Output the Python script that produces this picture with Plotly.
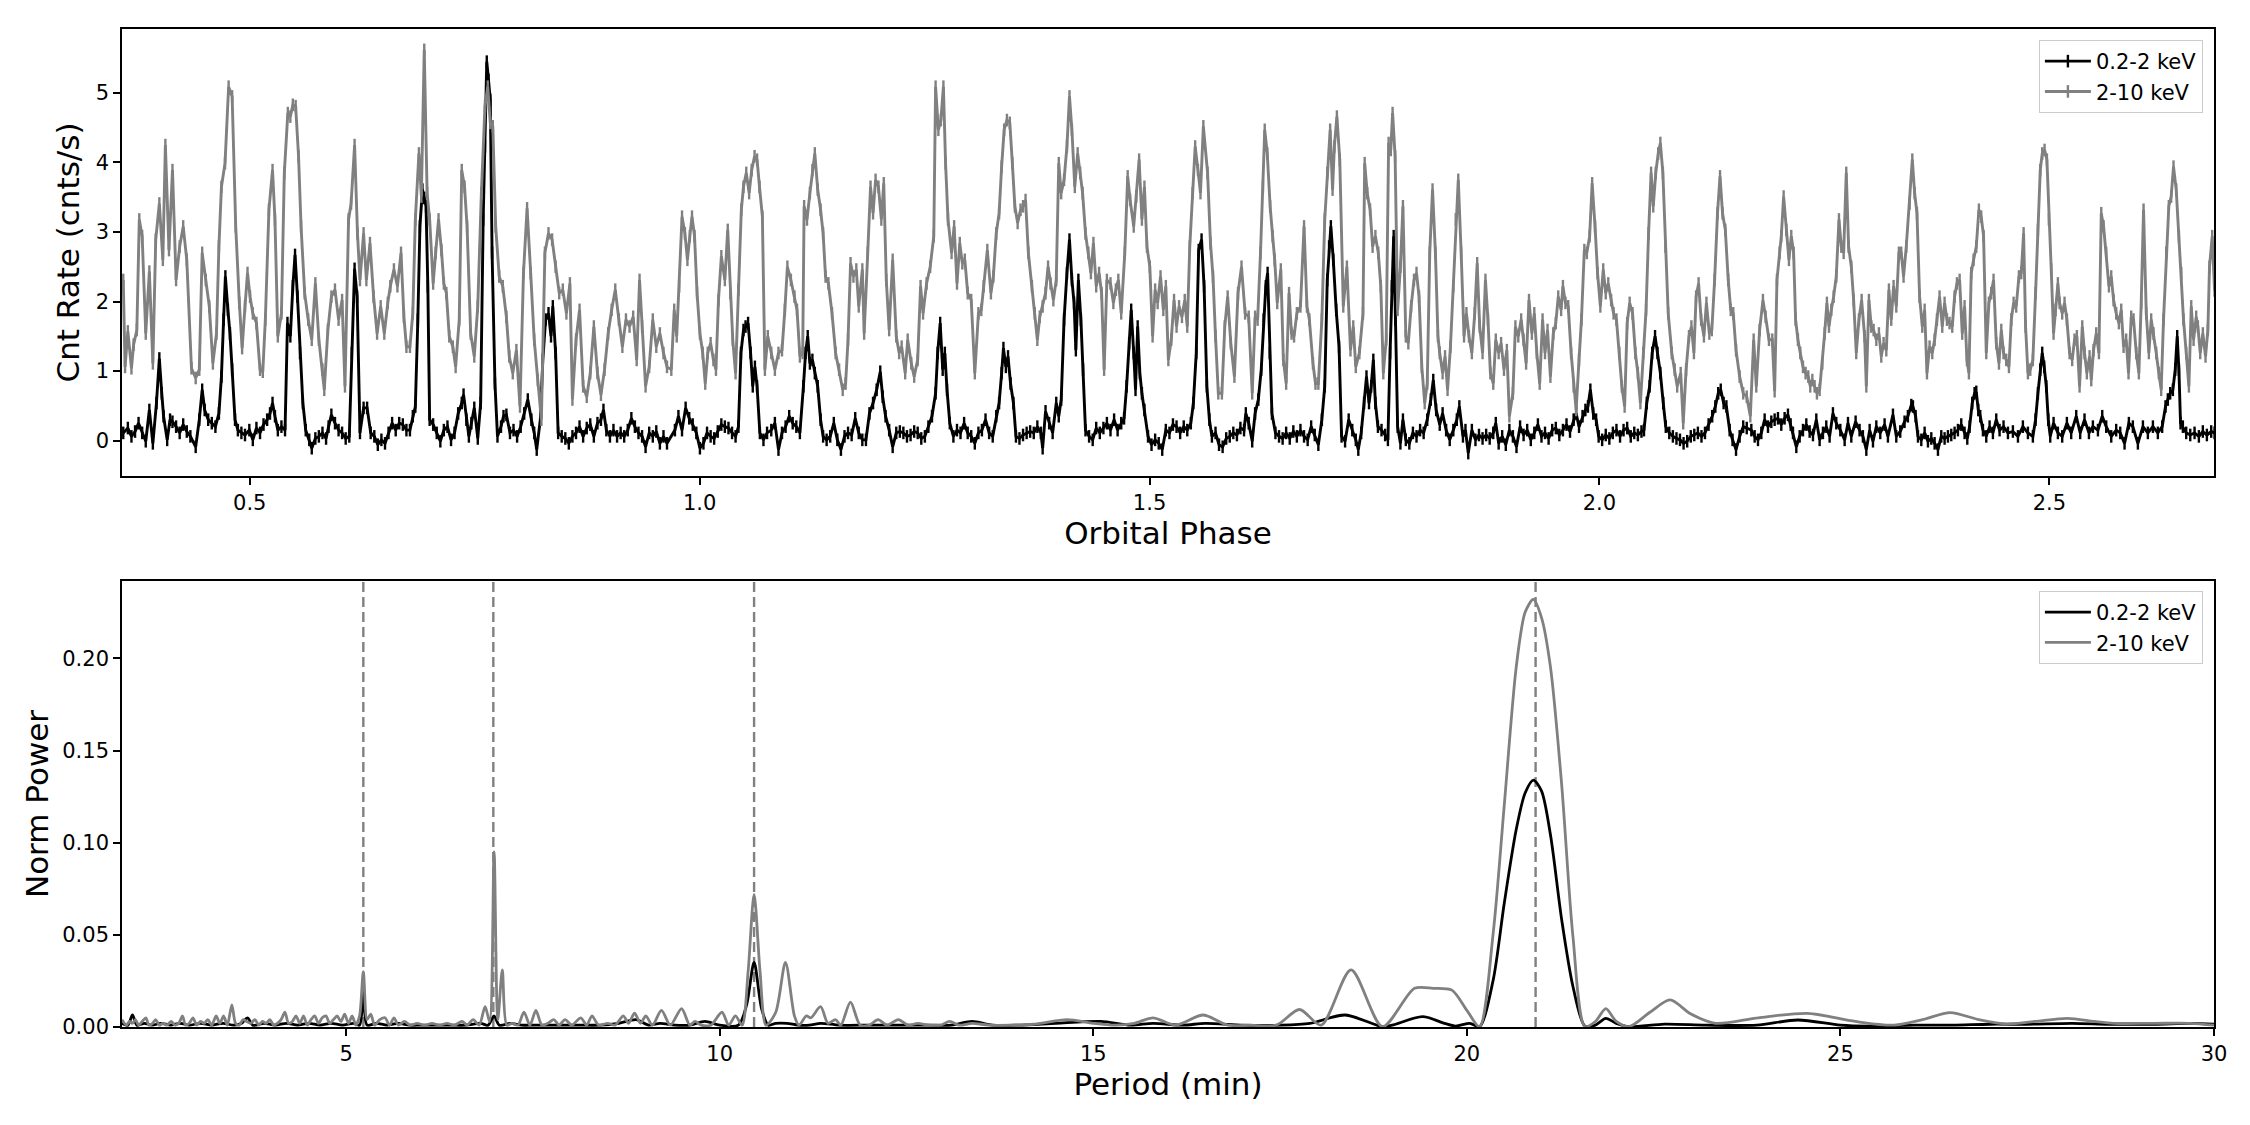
import plotly.graph_objects as go

# ---------------- data ----------------
# light curve, 0.2-2 keV: (orbital phase, count rate)
soft_lc = [
(0.3594,0.11),(0.3645,0.18),(0.3685,0.06),(0.3725,0.13),(0.3764,0.25),(0.3804,0.11),(0.3844,-0.01),(0.3884,0.44),
(0.3923,-0.04),(0.3963,0.54),(0.3995,1.18),(0.4022,0.68),(0.4042,0.35),(0.4082,0.01),(0.4114,0.30),(0.4141,0.27),
(0.4181,0.20),(0.4221,0.11),(0.4260,0.23),(0.4300,0.13),(0.4340,0.06),(0.4399,-0.09),(0.4439,0.30),(0.4471,0.73),
(0.4499,0.44),(0.4538,0.30),(0.4578,0.25),(0.4618,0.20),(0.4657,0.39),(0.4685,0.92),(0.4709,1.74),(0.4729,2.36),
(0.4757,1.88),(0.4780,1.54),(0.4804,1.02),(0.4836,0.30),(0.4868,0.15),(0.4907,0.11),(0.4947,0.08),(0.4995,0.15),
(0.5034,0.01),(0.5074,0.18),(0.5114,0.11),(0.5153,0.23),(0.5193,0.30),(0.5225,0.39),(0.5253,0.54),(0.5280,0.35),
(0.5312,0.15),(0.5352,0.20),(0.5392,0.15),(0.5419,1.69),(0.5451,1.50),(0.5479,2.22),(0.5503,2.67),(0.5530,2.07),
(0.5558,1.26),(0.5590,0.54),(0.5622,0.15),(0.5661,0.01),(0.5689,-0.11),(0.5729,0.03),(0.5768,0.06),(0.5808,0.11),
(0.5848,0.03),(0.5876,0.20),(0.5907,0.37),(0.5947,0.25),(0.5987,0.15),(0.6026,0.11),(0.6066,0.03),(0.6106,0.06),
(0.6134,1.26),(0.6165,2.47),(0.6193,2.07),(0.6225,0.11),(0.6265,0.47),(0.6304,0.47),(0.6344,0.11),(0.6384,0.06),
(0.6423,-0.06),(0.6463,0.01),(0.6503,-0.04),(0.6542,0.11),(0.6582,0.25),(0.6622,0.15),(0.6661,0.25),(0.6701,0.23),
(0.6741,0.15),(0.6780,0.15),(0.6812,0.35),(0.6840,0.49),(0.6868,1.74),(0.6891,3.08),(0.6919,3.61),(0.6939,3.49),
(0.6959,3.37),(0.6979,2.22),(0.6999,0.30),(0.7038,0.23),(0.7078,0.11),(0.7118,-0.01),(0.7157,0.15),(0.7197,0.20),
(0.7237,0.01),(0.7276,0.11),(0.7316,0.39),(0.7356,0.54),(0.7376,0.66),(0.7407,0.30),(0.7435,0.06),(0.7463,0.25),
(0.7495,0.47),(0.7534,0.03),(0.7566,0.54),(0.7594,3.18),(0.7614,4.23),(0.7634,5.45),(0.7653,5.19),(0.7673,4.90),
(0.7693,2.70),(0.7725,0.82),(0.7753,0.06),(0.7792,0.20),(0.7820,0.35),(0.7852,0.37),(0.7892,0.11),(0.7931,0.15),
(0.7971,0.06),(0.8011,0.20),(0.8050,0.39),(0.8090,0.59),(0.8130,0.30),(0.8161,0.11),(0.8189,-0.13),(0.8229,0.30),
(0.8257,1.16),(0.8288,1.74),(0.8320,1.83),(0.8348,1.50),(0.8368,1.93),(0.8399,1.26),(0.8427,0.11),(0.8467,0.06),
(0.8507,0.03),(0.8546,-0.04),(0.8586,0.06),(0.8626,0.11),(0.8665,0.20),(0.8705,0.06),(0.8745,0.18),(0.8784,0.23),
(0.8824,0.06),(0.8864,0.25),(0.8903,0.30),(0.8931,0.44),(0.8963,0.15),(0.9003,0.06),(0.9042,0.15),(0.9082,0.06),
(0.9122,0.11),(0.9161,0.06),(0.9201,0.15),(0.9241,0.32),(0.9280,0.20),(0.9320,0.11),(0.9360,0.06),(0.9399,-0.09),
(0.9439,0.11),(0.9479,0.06),(0.9518,0.13),(0.9558,-0.04),(0.9598,0.06),(0.9637,-0.04),
(0.9725,0.15),(0.9764,0.35),(0.9804,0.15),(0.9844,0.47),(0.9884,0.32),(0.9923,0.23),(0.9963,0.11),(1.0003,-0.11),
(1.0042,-0.04),(1.0082,0.11),(1.0122,0.06),(1.0161,0.03),(1.0201,0.13),(1.0241,0.23),(1.0280,0.20),(1.0320,0.18),
(1.0360,0.11),(1.0399,0.06),(1.0431,0.20),(1.0459,1.26),(1.0487,1.59),(1.0510,1.64),(1.0538,1.69),(1.0566,1.26),
(1.0590,0.78),(1.0614,1.06),(1.0638,0.78),(1.0669,0.11),(1.0709,0.01),(1.0749,0.11),(1.0796,0.15),(1.0836,0.25),
(1.0876,-0.13),(1.0915,0.11),(1.0955,0.20),(1.0995,0.35),(1.1034,0.25),(1.1074,0.20),(1.1114,0.11),(1.1153,0.78),
(1.1177,1.26),(1.1201,1.50),(1.1225,1.11),(1.1253,1.16),(1.1280,0.97),(1.1312,0.78),(1.1344,0.30),(1.1372,0.06),
(1.1411,0.01),(1.1451,0.06),(1.1491,0.25),(1.1530,0.01),(1.1570,-0.13),(1.1610,0.06),(1.1649,0.11),(1.1689,0.08),
(1.1729,0.32),(1.1768,0.11),(1.1808,0.01),(1.1848,0.01),(1.1887,0.39),(1.1927,0.54),(1.1967,0.73),(1.2007,0.99),
(1.2034,0.63),(1.2066,0.35),(1.2106,0.15),(1.2145,-0.09),(1.2185,0.11),(1.2225,0.13),(1.2264,0.11),(1.2304,0.06),
(1.2344,0.08),(1.2384,0.13),(1.2423,0.11),(1.2463,0.03),(1.2503,0.06),(1.2542,0.20),(1.2582,0.35),(1.2622,0.68),
(1.2645,1.26),(1.2673,1.69),(1.2701,1.02),(1.2725,1.26),(1.2749,0.73),(1.2780,0.25),(1.2820,0.06),(1.2860,0.15),
(1.2899,0.11),(1.2939,0.25),(1.2979,0.11),(1.3018,0.06),(1.3058,-0.04),(1.3098,0.11),(1.3137,0.15),(1.3177,0.30),
(1.3217,0.11),(1.3257,0.06),(1.3296,0.35),(1.3328,0.54),(1.3356,0.97),(1.3376,1.33),(1.3403,1.06),(1.3427,1.21),
(1.3455,0.82),(1.3487,0.54),(1.3515,0.06),(1.3554,0.03),(1.3594,0.08),(1.3634,0.11),(1.3673,0.13),(1.3713,0.11),
(1.3753,0.20),(1.3792,0.11),(1.3812,-0.11),(1.3844,0.42),(1.3884,0.25),(1.3923,0.11),(1.3963,0.54),(1.3991,0.35),
(1.4018,0.59),(1.4050,1.74),(1.4082,2.41),(1.4110,2.89),(1.4137,2.31),(1.4161,1.98),(1.4181,1.30),(1.4209,2.31),
(1.4237,1.74),(1.4261,1.02),(1.4288,0.15),(1.4328,0.06),(1.4368,0.01),(1.4407,0.18),(1.4447,0.11),(1.4487,0.18),
(1.4526,0.25),(1.4566,0.15),(1.4606,0.30),(1.4645,0.15),(1.4685,0.25),(1.4717,0.32),(1.4745,0.78),(1.4773,1.40),
(1.4796,1.88),(1.4824,1.26),(1.4844,0.73),(1.4868,1.64),(1.4892,0.97),(1.4915,0.68),(1.4943,0.44),(1.4983,0.06),
(1.5022,-0.06),(1.5062,0.01),(1.5102,-0.04),(1.5141,-0.13),(1.5181,0.15),(1.5221,0.11),(1.5260,0.23),(1.5300,0.20),
(1.5340,0.11),(1.5380,0.20),(1.5419,0.15),(1.5459,0.25),(1.5487,0.54),(1.5519,1.26),(1.5546,2.74),(1.5578,2.89),
(1.5606,2.22),(1.5637,0.78),(1.5665,0.30),(1.5693,0.06),(1.5733,0.11),(1.5772,-0.06),(1.5812,-0.09),(1.5852,0.03),
(1.5891,0.06),(1.5931,0.11),(1.5971,0.08),(1.6010,0.18),(1.6050,0.15),(1.6070,0.39),(1.6102,0.25),(1.6141,-0.01),
(1.6173,0.39),(1.6209,0.59),(1.6241,1.02),(1.6268,1.74),(1.6292,2.22),(1.6312,2.41),(1.6336,1.26),(1.6360,0.39),
(1.6399,0.11),(1.6439,0.06),(1.6479,0.03),(1.6518,0.11),(1.6558,0.03),(1.6598,0.13),(1.6637,0.06),(1.6677,0.15),
(1.6717,0.06),(1.6757,0.01),(1.6796,0.20),(1.6836,0.08),(1.6876,-0.06),(1.6915,0.30),(1.6947,0.78),(1.6975,2.31),
(1.6995,2.79),(1.7015,3.08),(1.7042,2.60),(1.7074,1.88),(1.7106,1.35),(1.7134,0.06),(1.7173,-0.01),(1.7213,0.30),
(1.7253,0.15),(1.7292,0.01),(1.7320,-0.13),(1.7352,0.11),(1.7384,0.54),(1.7411,0.92),(1.7439,0.54),(1.7463,0.78),
(1.7487,1.16),(1.7510,0.54),(1.7538,0.20),(1.7578,0.15),(1.7618,0.08),(1.7649,0.01),(1.7673,1.26),(1.7693,2.22),
(1.7713,2.94),(1.7733,1.74),(1.7757,0.20),(1.7788,-0.04),(1.7816,0.30),(1.7848,0.01),(1.7887,-0.04),(1.7927,0.11),
(1.7967,0.06),(1.8007,0.15),(1.8046,0.11),(1.8086,0.30),(1.8126,0.59),(1.8153,0.87),(1.8185,0.44),(1.8225,0.23),
(1.8257,0.39),(1.8296,0.15),(1.8336,0.01),(1.8376,0.15),(1.8415,0.30),(1.8443,0.49),(1.8483,0.06),(1.8511,0.15),
(1.8542,-0.18),(1.8582,0.15),(1.8622,0.01),(1.8661,0.08),(1.8701,0.03),(1.8741,0.08),(1.8780,0.03),(1.8820,0.11),
(1.8848,0.25),(1.8880,-0.04),(1.8919,0.06),(1.8959,-0.06),(1.8999,0.15),(1.9038,0.06),(1.9078,-0.09),(1.9118,0.20),
(1.9157,0.08),(1.9197,0.15),(1.9237,0.01),(1.9276,0.11),(1.9316,0.23),(1.9356,0.06),(1.9395,0.11),(1.9435,0.03),
(1.9475,0.15),(1.9515,0.18),(1.9554,0.08),(1.9594,0.15),(1.9634,0.23),(1.9673,0.13),(1.9713,0.30),(1.9741,0.39),
(1.9773,0.20),(1.9812,0.35),(1.9844,0.44),(1.9872,0.49),(1.9899,0.73),(1.9931,0.39),(1.9963,0.30),(1.9991,0.06),
(2.0030,0.01),(2.0070,0.08),(2.0110,0.03),(2.0149,0.11),(2.0189,0.15),(2.0229,0.06),(2.0268,0.15),(2.0308,0.18),
(2.0348,0.06),(2.0387,0.11),(2.0427,0.08),(2.0467,0.13),(2.0495,0.15),(2.0526,0.54),(2.0558,0.78),(2.0586,1.26),
(2.0618,1.50),(2.0645,1.26),(2.0677,0.97),(2.0709,0.54),(2.0737,0.20),(2.0776,0.11),(2.0816,0.06),(2.0856,0.03),
(2.0895,0.01),(2.0935,-0.04),(2.0975,-0.01),(2.1015,0.06),(2.1054,0.08),(2.1094,0.11),(2.1134,0.06),(2.1173,0.11),
(2.1213,0.23),(2.1253,0.35),(2.1288,0.49),(2.1320,0.68),(2.1348,0.73),(2.1380,0.54),(2.1411,0.49),(2.1447,0.15),
(2.1479,0.01),(2.1518,-0.13),(2.1558,0.06),(2.1598,0.20),(2.1637,0.18),
(2.1688,0.15),(2.1725,0.06),(2.1762,0.01),(2.1799,0.11),(2.1836,0.30),(2.1873,0.20),(2.1910,0.27),(2.1947,0.30),
(2.1984,0.32),(2.2021,0.23),(2.2058,0.32),(2.2095,0.37),(2.2125,0.23),(2.2151,0.11),(2.2188,-0.09),(2.2225,0.06),
(2.2262,0.15),(2.2299,0.23),(2.2336,0.13),(2.2373,0.08),(2.2410,0.30),(2.2447,0.01),(2.2484,0.11),(2.2521,0.20),
(2.2558,0.06),(2.2595,0.39),(2.2632,0.25),(2.2677,0.15),(2.2725,0.01),(2.2762,0.25),(2.2799,0.06),(2.2847,0.27),
(2.2891,0.15),(2.2928,0.06),(2.2966,-0.13),(2.3003,0.15),(2.3040,-0.01),(2.3077,0.20),(2.3121,0.11),(2.3169,0.23),
(2.3206,0.06),(2.3262,0.37),(2.3299,0.06),(2.3343,0.13),(2.3391,0.27),(2.3428,0.35),(2.3466,0.51),(2.3484,0.49),
(2.3514,0.35),(2.3540,0.06),(2.3577,0.01),(2.3614,0.11),(2.3651,-0.01),(2.3688,0.03),(2.3725,-0.04),(2.3762,-0.13),
(2.3799,0.06),(2.3836,0.03),(2.3873,0.06),(2.3910,0.08),(2.3947,0.11),(2.3984,0.15),(2.4021,0.23),(2.4058,0.11),
(2.4088,0.03),(2.4114,0.20),(2.4143,0.54),(2.4169,0.68),(2.4188,0.70),(2.4210,0.44),(2.4232,0.35),(2.4262,0.15),
(2.4299,0.06),(2.4336,0.20),(2.4373,0.11),(2.4410,0.30),(2.4447,0.15),(2.4491,0.20),(2.4540,0.11),(2.4595,0.13),
(2.4651,0.06),(2.4706,0.20),(2.4762,0.11),(2.4817,0.06),(2.4847,0.30),(2.4873,0.68),(2.4899,1.02),(2.4921,1.26),
(2.4943,1.06),(2.4966,0.78),(2.4988,0.30),(2.5010,0.06),(2.5047,0.25),(2.5095,0.11),(2.5143,0.06),(2.5195,0.25),
(2.5243,0.11),(2.5299,0.35),(2.5343,0.11),(2.5391,0.30),(2.5440,0.11),(2.5484,0.20),(2.5540,0.15),(2.5588,0.35),
(2.5632,0.20),(2.5688,0.06),(2.5743,0.15),(2.5788,0.11),(2.5836,-0.04),(2.5884,0.25),(2.5928,0.20),(2.5984,-0.04),
(2.6040,0.20),(2.6095,0.11),(2.6151,0.20),(2.6206,0.11),(2.6254,0.20),(2.6291,0.49),(2.6317,0.59),(2.6343,0.68),
(2.6373,0.73),(2.6399,1.02),(2.6421,1.50),(2.6440,1.02),(2.6458,0.25),(2.6484,0.20),(2.6521,0.11),(2.6566,0.08),
(2.6614,0.11),(2.6662,0.06),(2.6706,0.13),(2.6751,0.08),(2.6799,0.13),(2.6836,0.11),
]

# light curve, 2-10 keV: (orbital phase, count rate)
hard_lc = [
(0.3594,2.31),(0.3614,1.06),(0.3645,1.57),(0.3685,1.04),(0.3709,1.38),(0.3745,1.59),(0.3772,3.18),(0.3804,2.94),
(0.3844,1.54),(0.3884,2.43),(0.3923,1.11),(0.3955,2.89),(0.3995,3.41),(0.4034,2.60),(0.4062,4.25),(0.4102,2.74),
(0.4141,3.89),(0.4181,2.31),(0.4221,2.79),(0.4260,3.08),(0.4300,2.60),(0.4352,1.04),(0.4399,0.90),(0.4439,1.02),
(0.4471,2.70),(0.4511,2.31),(0.4550,1.93),(0.4590,1.11),(0.4630,1.54),(0.4657,2.79),(0.4685,3.65),(0.4725,3.99),
(0.4765,5.09),(0.4804,4.95),(0.4844,3.08),(0.4884,1.98),(0.4915,1.33),(0.4947,1.93),(0.4975,2.41),(0.5003,2.07),
(0.5034,1.83),(0.5074,1.69),(0.5114,1.02),(0.5145,0.99),(0.5173,1.74),(0.5213,3.32),(0.5253,3.89),(0.5280,3.18),
(0.5312,1.50),(0.5352,1.83),(0.5384,3.85),(0.5423,4.71),(0.5451,4.66),(0.5479,4.83),(0.5510,4.81),(0.5542,4.09),
(0.5570,3.08),(0.5610,2.12),(0.5649,1.74),(0.5689,1.45),(0.5729,2.26),(0.5768,1.45),(0.5808,1.02),(0.5828,0.73),
(0.5868,1.59),(0.5907,2.07),(0.5947,2.17),(0.5987,1.74),(0.6026,2.02),(0.6058,0.78),(0.6098,3.18),(0.6126,3.41),
(0.6165,4.25),(0.6197,2.98),(0.6225,2.31),(0.6265,2.98),(0.6296,2.31),(0.6336,2.84),(0.6376,2.07),(0.6415,1.54),
(0.6455,1.93),(0.6495,1.54),(0.6534,1.98),(0.6562,2.22),(0.6602,2.46),(0.6641,2.22),(0.6681,2.70),(0.6713,1.78),
(0.6741,1.35),(0.6780,1.35),(0.6812,1.83),(0.6840,3.18),(0.6880,4.13),(0.6907,3.51),(0.6939,5.62),(0.6971,3.56),
(0.6999,3.18),(0.7038,2.26),(0.7066,2.70),(0.7098,3.18),(0.7130,2.74),(0.7157,2.26),(0.7185,2.12),(0.7217,1.50),
(0.7257,1.35),(0.7288,1.06),(0.7328,1.74),(0.7356,3.89),(0.7387,3.65),(0.7415,3.08),(0.7455,1.54),(0.7495,1.21),
(0.7534,1.93),(0.7574,3.56),(0.7614,4.81),(0.7645,5.09),(0.7673,4.57),(0.7701,4.52),(0.7733,3.08),(0.7772,2.36),
(0.7812,2.22),(0.7852,1.78),(0.7884,1.21),(0.7923,0.97),(0.7963,1.30),(0.8003,0.49),(0.8042,2.41),(0.8082,3.34),
(0.8122,2.41),(0.8161,1.45),(0.8201,0.87),(0.8241,0.30),(0.8280,2.70),(0.8320,2.98),(0.8360,2.89),(0.8399,2.50),
(0.8439,2.12),(0.8479,2.17),(0.8519,1.83),(0.8558,2.26),(0.8586,0.59),(0.8626,1.45),(0.8665,1.88),(0.8705,0.78),
(0.8745,0.63),(0.8784,0.97),(0.8824,1.64),(0.8864,0.97),(0.8903,0.66),(0.8943,1.02),(0.8983,1.54),(0.9022,1.88),
(0.9062,2.17),(0.9102,1.74),(0.9141,1.35),(0.9181,1.74),(0.9221,1.64),(0.9261,1.78),(0.9300,1.16),(0.9332,2.31),
(0.9360,1.64),(0.9399,0.78),(0.9439,1.06),(0.9479,1.74),(0.9518,1.35),(0.9558,1.54),(0.9598,1.26),(0.9637,1.06),
(0.9685,1.02),(0.9717,1.88),(0.9745,1.50),(0.9772,2.22),(0.9804,3.22),(0.9836,2.98),(0.9864,2.60),(0.9891,2.94),
(0.9915,3.22),(0.9943,2.94),(0.9971,2.12),(1.0003,1.54),(1.0034,1.26),(1.0062,0.82),(1.0090,1.26),(1.0122,1.40),
(1.0153,1.16),(1.0181,1.02),(1.0209,2.02),(1.0241,2.65),(1.0280,2.31),(1.0312,3.03),(1.0340,2.12),(1.0368,1.45),
(1.0399,0.97),(1.0431,2.17),(1.0463,3.32),(1.0487,3.65),(1.0518,3.85),(1.0550,3.56),(1.0578,3.89),(1.0610,4.09),
(1.0638,4.04),(1.0665,3.65),(1.0697,3.22),(1.0725,1.02),(1.0757,1.50),(1.0796,1.26),(1.0836,1.02),(1.0876,1.26),
(1.0915,1.30),(1.0947,1.88),(1.0975,2.50),(1.1014,2.31),(1.1054,2.07),(1.1082,1.88),(1.1114,1.21),(1.1145,1.26),
(1.1161,3.37),(1.1193,3.18),(1.1225,3.56),(1.1253,3.89),(1.1280,4.13),(1.1312,3.61),(1.1344,3.32),(1.1372,2.98),
(1.1399,2.36),(1.1431,2.26),(1.1471,1.83),(1.1511,1.26),(1.1550,1.02),(1.1590,0.73),(1.1622,0.82),(1.1649,1.45),
(1.1677,2.55),(1.1709,2.36),(1.1741,2.46),(1.1768,1.93),(1.1808,2.46),(1.1828,1.54),(1.1868,2.70),(1.1899,3.65),
(1.1927,3.27),(1.1955,3.75),(1.1987,3.65),(1.2019,3.18),(1.2046,3.70),(1.2074,2.31),(1.2106,1.59),(1.2145,2.60),
(1.2185,1.50),(1.2217,1.26),(1.2245,1.35),(1.2284,0.97),(1.2312,1.45),(1.2352,1.11),(1.2384,0.92),(1.2423,1.16),
(1.2455,2.22),(1.2483,1.83),(1.2522,2.26),(1.2562,2.50),(1.2602,2.94),(1.2622,5.09),(1.2653,4.47),(1.2681,4.61),
(1.2709,5.09),(1.2733,3.99),(1.2760,3.18),(1.2800,2.70),(1.2828,3.08),(1.2860,2.26),(1.2891,2.84),(1.2919,2.55),
(1.2947,2.60),(1.2979,2.12),(1.3018,2.02),(1.3058,0.97),(1.3098,1.83),(1.3130,1.88),(1.3157,2.22),(1.3197,2.74),
(1.3237,2.12),(1.3264,2.36),(1.3296,2.98),(1.3328,3.27),(1.3356,3.94),(1.3384,4.47),(1.3415,4.61),(1.3447,4.57),
(1.3475,3.99),(1.3503,3.37),(1.3534,3.13),(1.3566,3.32),(1.3594,3.37),(1.3622,3.46),(1.3653,2.70),(1.3693,2.22),
(1.3725,1.83),(1.3753,1.45),(1.3780,1.78),(1.3812,1.93),(1.3844,2.12),(1.3872,2.50),(1.3899,2.26),(1.3931,2.02),
(1.3963,2.31),(1.3991,3.99),(1.4018,3.56),(1.4050,3.75),(1.4082,4.23),(1.4110,4.95),(1.4137,4.47),(1.4169,3.65),
(1.4201,4.13),(1.4229,3.85),(1.4256,3.56),(1.4288,2.98),(1.4320,2.70),(1.4348,2.41),(1.4376,2.84),(1.4407,2.22),
(1.4439,2.41),(1.4467,2.12),(1.4495,1.02),(1.4526,2.31),(1.4566,2.26),(1.4598,1.98),(1.4626,2.17),(1.4653,2.31),
(1.4685,1.83),(1.4725,2.70),(1.4757,3.80),(1.4784,3.46),(1.4824,3.08),(1.4852,3.51),(1.4884,4.04),(1.4915,3.18),
(1.4943,3.65),(1.4971,2.79),(1.5003,2.50),(1.5034,1.50),(1.5062,2.17),(1.5090,1.98),(1.5122,2.36),(1.5153,1.88),
(1.5181,2.22),(1.5209,1.16),(1.5241,1.45),(1.5272,2.02),(1.5300,1.64),(1.5328,1.93),(1.5360,1.78),(1.5391,2.02),
(1.5419,1.64),(1.5447,2.79),(1.5479,3.56),(1.5507,4.23),(1.5538,3.89),(1.5566,3.56),(1.5598,4.52),
(1.5645,3.85),(1.5677,2.84),(1.5705,2.36),(1.5733,1.50),(1.5764,0.68),(1.5804,0.68),(1.5836,1.64),(1.5868,2.07),
(1.5903,1.40),(1.5943,0.92),(1.5983,2.12),(1.6022,2.50),(1.6062,1.83),(1.6102,1.78),(1.6141,0.68),(1.6173,1.78),
(1.6201,1.74),(1.6233,2.70),(1.6260,3.65),(1.6280,4.47),(1.6308,4.13),(1.6340,3.37),(1.6368,2.94),(1.6391,2.60),
(1.6419,1.98),(1.6459,2.46),(1.6487,1.16),(1.6518,0.82),(1.6550,2.12),(1.6578,1.54),(1.6606,1.50),(1.6637,1.83),
(1.6677,1.93),(1.6717,3.08),(1.6749,1.93),(1.6776,1.74),(1.6816,1.11),(1.6844,0.82),(1.6876,0.82),(1.6915,1.74),
(1.6947,3.18),(1.6975,3.85),(1.7007,4.47),(1.7034,3.61),(1.7054,4.23),(1.7082,4.66),(1.7114,4.04),(1.7153,1.93),
(1.7193,2.50),(1.7233,1.30),(1.7264,1.64),(1.7292,1.06),(1.7332,1.26),(1.7372,1.83),(1.7391,3.99),(1.7419,3.56),
(1.7451,3.32),(1.7479,2.79),(1.7510,2.94),(1.7542,2.70),(1.7570,2.22),(1.7598,0.97),(1.7630,1.45),(1.7657,4.28),
(1.7681,4.18),(1.7701,4.71),(1.7729,4.09),(1.7757,1.88),(1.7788,2.50),(1.7816,3.37),(1.7848,1.50),(1.7876,1.40),
(1.7907,1.93),(1.7939,2.31),(1.7967,2.41),(1.7995,2.07),(1.8026,1.06),(1.8058,0.54),(1.8086,0.82),(1.8114,2.70),
(1.8145,3.61),(1.8177,2.70),(1.8205,1.50),(1.8225,1.26),(1.8257,0.97),(1.8284,1.21),(1.8312,0.73),(1.8344,1.35),
(1.8376,2.22),(1.8403,3.18),(1.8431,3.75),(1.8463,2.70),(1.8495,1.50),(1.8522,1.83),(1.8550,1.50),(1.8582,1.26),
(1.8614,1.83),(1.8641,2.55),(1.8669,1.64),(1.8701,1.26),(1.8733,2.31),(1.8761,1.74),(1.8788,0.97),(1.8820,0.82),
(1.8848,1.45),(1.8880,1.26),(1.8907,1.40),(1.8939,1.02),(1.8971,1.30),(1.8999,0.35),(1.9038,0.68),(1.9066,1.64),
(1.9098,1.50),(1.9130,1.74),(1.9157,1.45),(1.9185,1.11),(1.9217,2.02),(1.9249,1.54),(1.9276,1.83),(1.9304,1.26),
(1.9336,0.82),(1.9368,1.74),(1.9395,1.26),(1.9423,1.59),(1.9455,0.92),(1.9487,1.54),(1.9515,1.69),(1.9542,2.07),
(1.9574,1.88),(1.9594,2.22),(1.9622,1.98),(1.9653,1.93),(1.9685,1.26),(1.9713,0.78),(1.9741,0.44),(1.9773,1.16),
(1.9800,1.74),(1.9832,2.74),(1.9860,2.70),(1.9891,2.94),(1.9919,3.70),(1.9951,3.08),(1.9979,2.41),(2.0010,1.93),
(2.0042,2.46),(2.0070,2.12),(2.0098,2.26),(2.0130,2.02),(2.0157,1.83),(2.0189,1.74),(2.0221,1.26),(2.0249,0.78),
(2.0280,0.49),(2.0308,1.69),(2.0336,1.98),(2.0368,1.83),(2.0399,1.26),(2.0427,0.97),(2.0455,0.54),(2.0487,1.26),
(2.0518,1.88),(2.0546,2.98),(2.0574,3.85),(2.0598,3.37),(2.0626,3.85),(2.0653,4.13),(2.0677,4.28),(2.0705,3.85),
(2.0733,2.79),(2.0764,1.83),(2.0804,1.26),(2.0836,1.02),(2.0864,0.78),(2.0903,0.97),(2.0931,0.25),(2.0963,1.02),
(2.0995,1.50),(2.1022,1.64),(2.1050,1.26),(2.1074,2.07),(2.1102,2.26),(2.1130,1.74),(2.1161,1.50),(2.1189,1.98),
(2.1221,1.54),(2.1249,1.59),(2.1280,2.31),(2.1312,3.27),(2.1340,3.80),(2.1368,3.27),(2.1399,3.03),(2.1431,2.31),
(2.1459,1.88),(2.1487,1.83),(2.1518,1.30),(2.1558,0.92),(2.1598,0.68),(2.1637,0.63),
(2.1677,0.35),(2.1714,1.45),(2.1743,0.78),(2.1780,1.59),(2.1817,2.02),(2.1847,1.78),(2.1884,1.45),(2.1921,1.45),
(2.1947,0.71),(2.1973,2.31),(2.2003,2.70),(2.2021,2.94),(2.2047,3.51),(2.2077,3.03),(2.2106,2.60),(2.2132,2.94),
(2.2158,2.70),(2.2180,1.74),(2.2206,1.45),(2.2232,1.26),(2.2262,1.06),(2.2291,0.97),(2.2321,0.92),(2.2343,0.78),
(2.2366,0.87),(2.2391,0.78),(2.2417,0.68),(2.2447,0.73),(2.2477,1.11),(2.2503,1.54),(2.2528,1.98),(2.2551,1.64),
(2.2577,1.88),(2.2603,2.07),(2.2632,2.36),(2.2662,3.18),(2.2688,2.79),(2.2714,2.70),(2.2743,3.85),(2.2769,2.79),
(2.2799,2.50),(2.2825,2.02),(2.2854,1.26),(2.2884,1.74),(2.2914,2.02),(2.2947,1.50),(2.2966,0.78),(2.2995,2.02),
(2.3021,1.64),(2.3047,1.59),(2.3077,1.45),(2.3106,1.54),(2.3132,1.21),(2.3158,1.40),(2.3188,1.30),(2.3217,2.17),
(2.3243,1.74),(2.3269,2.22),(2.3299,1.93),(2.3328,2.70),(2.3354,2.70),(2.3380,2.36),(2.3410,2.79),(2.3447,3.41),
(2.3477,4.04),(2.3503,3.56),(2.3529,3.27),(2.3558,2.07),(2.3588,1.64),(2.3614,1.88),(2.3640,0.97),(2.3669,1.35),
(2.3699,1.26),(2.3725,1.45),(2.3751,1.74),(2.3780,2.07),(2.3810,1.64),(2.3836,1.98),(2.3862,1.74),(2.3891,1.69),
(2.3921,1.64),(2.3947,2.07),(2.3973,2.26),(2.4003,2.31),(2.4032,1.54),(2.4058,1.93),(2.4084,1.16),(2.4106,0.97),
(2.4132,2.41),(2.4158,2.60),(2.4188,2.79),(2.4217,3.32),(2.4243,3.22),(2.4269,2.94),(2.4299,1.26),(2.4328,1.98),
(2.4354,2.12),(2.4380,2.31),(2.4410,1.40),(2.4440,1.11),(2.4466,1.59),(2.4491,1.26),(2.4521,1.16),(2.4551,1.06),
(2.4577,1.74),(2.4603,1.98),(2.4632,1.93),(2.4662,2.36),(2.4688,2.41),(2.4714,2.98),(2.4736,1.64),(2.4762,0.97),
(2.4788,1.02),(2.4817,1.16),(2.4847,2.12),(2.4873,3.03),(2.4899,3.89),(2.4921,4.13),(2.4947,4.18),(2.4973,4.04),
(2.4995,3.18),(2.5021,2.46),(2.5047,1.54),(2.5069,1.88),(2.5095,2.26),(2.5114,1.98),(2.5143,1.83),(2.5169,1.98),
(2.5195,1.74),(2.5225,1.26),(2.5254,1.16),(2.5280,1.45),(2.5306,1.50),(2.5336,0.78),(2.5366,1.64),(2.5391,1.26),
(2.5417,0.97),(2.5447,1.21),(2.5466,0.87),(2.5491,1.30),(2.5521,1.54),(2.5551,1.26),(2.5577,3.27),(2.5603,3.08),
(2.5632,2.70),(2.5662,2.22),(2.5688,2.36),(2.5714,2.02),(2.5743,1.83),(2.5773,1.69),(2.5799,1.88),(2.5825,1.35),
(2.5854,1.45),(2.5880,0.97),(2.5910,1.78),(2.5936,1.74),(2.5966,1.26),(2.5995,0.97),(2.6021,1.98),(2.6047,3.32),
(2.6077,1.83),(2.6106,1.26),(2.6132,1.74),(2.6158,1.54),(2.6188,1.26),(2.6217,0.97),(2.6243,0.73),(2.6269,1.74),
(2.6299,2.70),(2.6328,3.37),(2.6354,3.51),(2.6380,3.94),(2.6410,3.61),(2.6440,2.94),(2.6466,2.41),(2.6491,1.74),
(2.6521,1.26),(2.6551,0.78),(2.6577,1.93),(2.6603,1.45),(2.6632,1.78),(2.6651,1.64),(2.6677,1.26),(2.6706,1.54),
(2.6736,1.21),(2.6762,1.59),(2.6780,2.50),(2.6810,2.94),(2.6836,2.16),
]

# periodogram, 0.2-2 keV: (period [min], normalised power)
soft_pow = [
(2.00,0.002),(2.08,0.001),(2.14,0.0065),(2.20,0.001),(2.30,0.002),(2.40,0.001),(2.52,0.002),(2.65,0.001),
(2.78,0.002),(2.90,0.001),(3.05,0.002),(3.20,0.001),(3.35,0.002),(3.50,0.001),(3.60,0.002),(3.68,0.005),
(3.75,0.001),(3.90,0.002),(4.05,0.001),(4.20,0.002),(4.35,0.001),(4.50,0.002),(4.65,0.001),(4.80,0.002),
(4.95,0.001),(5.10,0.002),(5.18,0.001),(5.23,0.020),(5.28,0.001),(5.40,0.002),(5.55,0.001),(5.70,0.002),
(5.85,0.001),(6.00,0.001),(6.20,0.001),(6.40,0.001),(6.60,0.001),(6.80,0.002),(6.90,0.001),(6.98,0.006),
(7.05,0.001),(7.20,0.002),(7.35,0.001),(7.50,0.001),(7.80,0.001),(8.10,0.001),(8.40,0.001),(8.65,0.002),
(8.88,0.004),(9.05,0.001),(9.20,0.002),(9.40,0.001),(9.60,0.001),(9.80,0.003),(10.00,0.001),(10.25,0.001),
(10.36,0.012),(10.46,0.035),(10.56,0.010),(10.65,0.001),(10.75,0.002),(10.90,0.002),(11.05,0.001),(11.20,0.001),
(11.35,0.002),(11.60,0.001),(12.00,0.001),(12.40,0.001),(12.80,0.001),(13.10,0.001),(13.38,0.003),(13.65,0.001),
(14.00,0.001),(14.50,0.002),(15.10,0.003),(15.50,0.001),(15.80,0.002),(16.20,0.001),(16.50,0.002),(17.00,0.001),
(17.50,0.001),(17.90,0.002),(18.37,0.0065),(18.87,0.0002),(19.00,0.001),(19.41,0.0056),(19.70,0.002),(19.85,0.0005),
(20.04,0.002),(20.17,0.0002),(20.35,0.025),(20.50,0.067),(20.66,0.107),(20.78,0.127),(20.89,0.134),(21.00,0.128),
(21.12,0.104),(21.27,0.058),(21.42,0.022),(21.58,0.0005),(21.72,0.001),(21.86,0.0047),(22.00,0.002),(22.17,0.0002),
(22.65,0.0016),(23.20,0.001),(23.88,0.001),(24.43,0.0038),(25.00,0.001),(25.38,0.0005),(26.00,0.001),(26.50,0.001),
(27.00,0.0015),(27.50,0.0015),(28.10,0.002),(28.60,0.0015),(29.20,0.0015),(29.70,0.002),(30.00,0.0015),
]

# periodogram, 2-10 keV: (period [min], normalised power)
hard_pow = [
(2.00,0.004),(2.06,0.001),(2.10,0.003),(2.14,0.002),(2.18,0.004),(2.22,0.001),(2.27,0.003),(2.32,0.005),
(2.36,0.001),(2.41,0.002),(2.45,0.004),(2.50,0.001),(2.55,0.002),(2.60,0.001),(2.66,0.003),(2.71,0.001),
(2.76,0.002),(2.81,0.006),(2.85,0.001),(2.90,0.002),(2.95,0.005),(3.00,0.001),(3.05,0.003),(3.10,0.002),
(3.15,0.004),(3.20,0.001),(3.26,0.006),(3.31,0.002),(3.36,0.006),(3.41,0.001),(3.47,0.012),(3.52,0.002),
(3.57,0.001),(3.62,0.004),(3.67,0.003),(3.72,0.002),(3.78,0.004),(3.83,0.001),(3.88,0.003),(3.93,0.002),
(3.98,0.004),(4.03,0.001),(4.08,0.002),(4.13,0.004),(4.18,0.008),(4.23,0.002),(4.28,0.003),(4.33,0.006),
(4.38,0.002),(4.43,0.006),(4.48,0.001),(4.53,0.004),(4.58,0.006),(4.63,0.002),(4.68,0.005),(4.73,0.006),
(4.78,0.002),(4.83,0.004),(4.88,0.006),(4.93,0.003),(4.98,0.007),(5.03,0.002),(5.08,0.006),(5.13,0.001),
(5.18,0.006),(5.23,0.030),(5.28,0.004),(5.33,0.007),(5.38,0.001),(5.45,0.004),(5.52,0.005),(5.58,0.001),
(5.64,0.005),(5.70,0.001),(5.78,0.003),(5.86,0.001),(5.95,0.002),(6.05,0.001),(6.15,0.002),(6.25,0.001),
(6.35,0.002),(6.45,0.001),(6.55,0.003),(6.62,0.001),(6.70,0.004),(6.78,0.001),(6.86,0.011),(6.92,0.003),
(6.98,0.095),(7.03,0.004),(7.09,0.031),(7.15,0.001),(7.22,0.002),(7.30,0.001),(7.38,0.008),(7.46,0.001),
(7.54,0.009),(7.62,0.001),(7.70,0.002),(7.78,0.004),(7.85,0.001),(7.93,0.004),(8.02,0.001),(8.14,0.005),
(8.22,0.001),(8.29,0.006),(8.38,0.001),(8.50,0.002),(8.60,0.001),(8.71,0.006),(8.78,0.002),(8.86,0.0075),
(8.94,0.002),(9.01,0.006),(9.10,0.001),(9.22,0.009),(9.34,0.001),(9.49,0.010),(9.60,0.001),(9.67,0.003),
(9.75,0.001),(9.88,0.001),(10.03,0.008),(10.12,0.001),(10.21,0.006),(10.30,0.001),(10.38,0.030),(10.46,0.072),
(10.54,0.030),(10.62,0.001),(10.75,0.008),(10.88,0.035),(11.00,0.006),(11.06,0.001),(11.16,0.006),(11.22,0.005),
(11.35,0.011),(11.45,0.002),(11.55,0.004),(11.62,0.001),(11.75,0.0135),(11.88,0.001),(12.00,0.001),(12.12,0.004),
(12.24,0.001),(12.39,0.004),(12.52,0.001),(12.65,0.002),(12.80,0.001),(12.95,0.001),(13.08,0.003),(13.20,0.001),
(13.38,0.002),(13.60,0.001),(13.90,0.001),(14.20,0.0015),(14.65,0.004),(15.00,0.002),(15.30,0.001),(15.55,0.002),
(15.80,0.005),(16.10,0.001),(16.47,0.0065),(16.80,0.001),(17.10,0.001),(17.45,0.001),(17.76,0.0095),(18.05,0.001),
(18.45,0.031),(18.87,0.0002),(19.30,0.021),(19.55,0.021),(19.80,0.020),(20.00,0.009),(20.17,0.0002),(20.35,0.050),
(20.50,0.120),(20.66,0.195),(20.78,0.225),(20.89,0.232),(21.00,0.222),(21.12,0.195),(21.27,0.131),(21.42,0.049),
(21.58,0.0002),(21.72,0.003),(21.86,0.010),(22.00,0.003),(22.17,0.0002),(22.45,0.008),(22.72,0.0147),(23.00,0.007),
(23.33,0.002),(23.90,0.005),(24.56,0.0074),(25.20,0.003),(25.72,0.001),(26.10,0.004),(26.47,0.0078),(26.85,0.004),
(27.22,0.0016),(27.60,0.003),(28.04,0.0047),(28.40,0.003),(28.66,0.002),(29.20,0.002),(29.68,0.002),(30.00,0.001),
]

# harmonics of the 20.9 min period marked by dashed lines (P/4, P/3, P/2, P)
harmonic_periods = [5.23, 6.97, 10.46, 20.92]

band_names = ["0.2-2 keV", "2-10 keV"]
phase_ticks = [0.5, 1.0, 1.5, 2.0, 2.5]
rate_ticks = [0, 1, 2, 3, 4, 5]
period_ticks = [5, 10, 15, 20, 25, 30]
power_ticks = [0.0, 0.05, 0.10, 0.15, 0.20]

# ---------------- figure ----------------
BLACK = "#000000"
GREY = "#808080"
FONT = "DejaVu Sans"

fig = go.Figure()

ph_s, rt_s = zip(*soft_lc)
ph_h, rt_h = zip(*hard_lc)
pr_s, pw_s = zip(*soft_pow)
pr_h, pw_h = zip(*hard_pow)

# light curves drawn like an errorbar plot: line plus a short vertical stub at each bin
for ph, rt, name, col in [(ph_s, rt_s, band_names[0], BLACK), (ph_h, rt_h, band_names[1], GREY)]:
    fig.add_trace(go.Scatter(
        x=ph, y=rt, mode="lines+markers", name=name,
        line=dict(color=col, width=2.9),
        marker=dict(symbol="line-ns-open", size=9, color=col, line=dict(color=col, width=2.4)),
        xaxis="x", yaxis="y", legend="legend"))

fig.add_trace(go.Scatter(x=pr_s, y=pw_s, mode="lines", name=band_names[0],
                         line=dict(color=BLACK, width=2.8, shape="spline", smoothing=0.8),
                         xaxis="x2", yaxis="y2", legend="legend2"))
fig.add_trace(go.Scatter(x=pr_h, y=pw_h, mode="lines", name=band_names[1],
                         line=dict(color=GREY, width=2.8, shape="spline", smoothing=0.8),
                         xaxis="x2", yaxis="y2", legend="legend2"))

for p in harmonic_periods:
    fig.add_shape(type="line", xref="x2", yref="y2 domain", x0=p, x1=p, y0=0, y1=1,
                  line=dict(color=GREY, width=2.4, dash="10px,5px"), layer="below")

axis_common = dict(showgrid=False, zeroline=False, showline=True, mirror=True,
                   linecolor=BLACK, linewidth=1.6, ticks="outside", ticklen=7,
                   tickwidth=1.6, tickcolor=BLACK,
                   tickfont=dict(family=FONT, size=21, color=BLACK))
title_font = dict(family=FONT, size=31, color=BLACK)
legend_common = dict(xanchor="right", yanchor="top",
                     bgcolor="rgba(255,255,255,0.8)", bordercolor="#cccccc", borderwidth=1,
                     font=dict(family=FONT, size=21, color=BLACK), itemwidth=46, tracegroupgap=2)

fig.update_layout(
    width=2250, height=1125,
    margin=dict(l=122, r=36, t=29, b=98),
    paper_bgcolor="white", plot_bgcolor="white",
    font=dict(family=FONT, color=BLACK),
    xaxis=dict(domain=[0, 1], anchor="y", range=[0.358, 2.683],
               tickvals=phase_ticks, ticktext=[f"{v:.1f}" for v in phase_ticks],
               title=dict(text="Orbital Phase", font=title_font, standoff=7), **axis_common),
    yaxis=dict(domain=[0.5521, 1.0], anchor="x", range=[-0.51, 5.92],
               tickvals=rate_ticks, ticktext=[str(v) for v in rate_ticks],
               title=dict(text="Cnt Rate (cnts/s)", font=title_font, standoff=7), **axis_common),
    xaxis2=dict(domain=[0, 1], anchor="y2", range=[2.0, 30.0],
                tickvals=period_ticks, ticktext=[str(v) for v in period_ticks],
                title=dict(text="Period (min)", font=title_font, standoff=7), **axis_common),
    yaxis2=dict(domain=[0.0, 0.4469], anchor="x2", range=[0.0, 0.242],
                tickvals=power_ticks, ticktext=[f"{v:.2f}" for v in power_ticks],
                title=dict(text="Norm Power", font=title_font, standoff=4), **axis_common),
    legend=dict(x=0.9947, y=0.989, **legend_common),
    legend2=dict(x=0.9947, y=0.4369, **legend_common),
    showlegend=True,
)

fig.write_html("out.html")
